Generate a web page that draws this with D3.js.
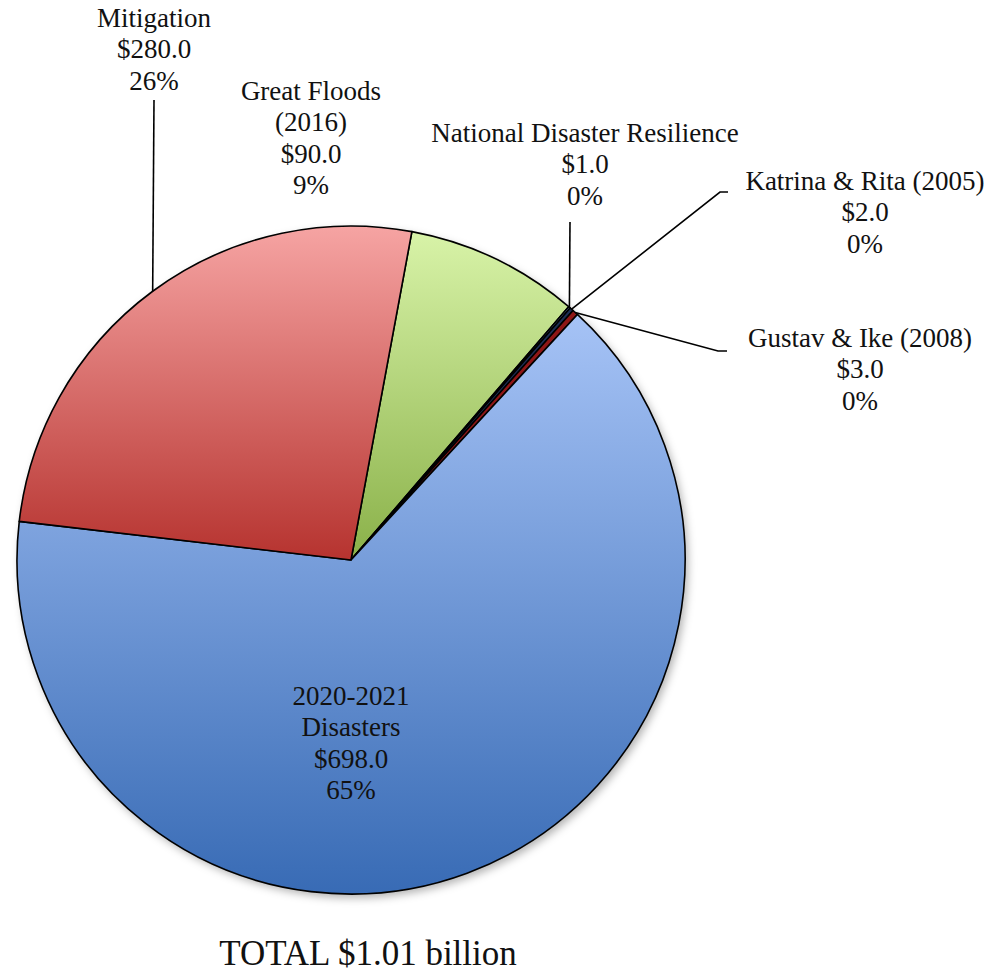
<!DOCTYPE html>
<html>
<head>
<meta charset="utf-8">
<script src="https://cdn.jsdelivr.net/npm/d3@7"></script>
<style>
  html, body { margin: 0; padding: 0; background: #fff; }
  svg { display: block; }
  text { font-family: "Liberation Serif", "DejaVu Serif", serif; fill: #111; }
</style>
</head>
<body>
<svg id="chart" width="1003" height="973"></svg>
<script>
// Funding categories (millions of dollars), drawn clockwise
const categories = ["Great Floods (2016)", "National Disaster Resilience", "Katrina & Rita (2005)", "Gustav & Ike (2008)", "2020-2021 Disasters", "Mitigation"];
const amounts = [90.0, 1.0, 2.0, 3.0, 698.0, 280.0];
const percentLabels = ["9%", "0%", "0%", "0%", "65%", "26%"];
const nameLines = [["Great Floods", "(2016)"], ["National Disaster Resilience"], ["Katrina & Rita (2005)"], ["Gustav & Ike (2008)"], ["2020-2021", "Disasters"], ["Mitigation"]];
const totalLabel = "TOTAL $1.01 billion";

// Slice fills: [top colour, bottom colour] of a vertical gradient
const fills = [
  ["#d8f3a8", "#8ab149"],
  ["#7fa9e8", "#4f7fc4"],
  ["#1d2f55", "#1d2f55"],
  ["#8e1616", "#8e1616"],
  ["#a6c3f6", "#386bb5"],
  ["#f6a4a3", "#b6332f"]
];

// Label placement: centre x, first-line centre y, and optional leader elbow
const labelLayout = [
  { x: 311, y: 91 },
  { x: 585, y: 133, leader: [[570, 222]] },
  { x: 865, y: 181, leader: [[728, 192], [720, 192]] },
  { x: 860, y: 338, leader: [[727, 351], [718, 351]] },
  { x: 351, y: 696 },
  { x: 154, y: 18, leader: [[154, 100]] }
];

const cx = 351, cy = 560, R = 334;
const fontSize = 27, lineGap = 31.5;
const startDeg = 10.5;

const svg = d3.select("#chart");
const defs = svg.append("defs");

const shadow = defs.append("filter").attr("id", "pieShadow")
  .attr("x", "-10%").attr("y", "-10%").attr("width", "120%").attr("height", "120%");
shadow.append("feDropShadow").attr("dx", 3).attr("dy", 4).attr("stdDeviation", 4)
  .attr("flood-color", "#000").attr("flood-opacity", 0.3);

fills.forEach((f, i) => {
  const g = defs.append("linearGradient").attr("id", "grad" + i)
    .attr("x1", 0).attr("y1", 0).attr("x2", 0).attr("y2", 1);
  g.append("stop").attr("offset", "0%").attr("stop-color", f[0]);
  g.append("stop").attr("offset", "100%").attr("stop-color", f[1]);
});

const a0 = startDeg * Math.PI / 180;
const pie = d3.pie().value(d => d).sort(null).startAngle(a0).endAngle(a0 + 2 * Math.PI);
const arcs = pie(amounts);
const arc = d3.arc().innerRadius(0).outerRadius(R);

const g = svg.append("g").attr("transform", `translate(${cx},${cy})`);

// shadow under the whole disc
g.append("circle").attr("r", R).attr("fill", "#fff").attr("filter", "url(#pieShadow)");

g.selectAll("path.slice").data(arcs).join("path")
  .attr("class", "slice")
  .attr("d", arc)
  .attr("fill", (d, i) => `url(#grad${i})`)
  .attr("stroke", "#000")
  .attr("stroke-width", 1.6)
  .attr("stroke-linejoin", "round");

// leader lines from label to the slice edge
const edgeArc = d3.arc().innerRadius(R).outerRadius(R);
arcs.forEach((d, i) => {
  const lay = labelLayout[i];
  if (!lay.leader) return;
  const [ex, ey] = edgeArc.centroid(d);
  const pts = lay.leader.concat([[cx + ex, cy + ey]]);
  svg.append("path")
    .attr("d", d3.line()(pts))
    .attr("fill", "none")
    .attr("stroke", "#000")
    .attr("stroke-width", 1.6);
});

// data labels
arcs.forEach((d, i) => {
  const lay = labelLayout[i];
  const lines = nameLines[i].concat(["$" + amounts[i].toFixed(1), percentLabels[i]]);
  const t = svg.append("text")
    .attr("text-anchor", "middle")
    .attr("font-size", fontSize);
  lines.forEach((s, k) => {
    t.append("tspan")
      .attr("x", lay.x)
      .attr("y", lay.y + k * lineGap)
      .attr("dy", "0.33em")
      .text(s);
  });
});

svg.append("text")
  .attr("x", 368).attr("y", 953).attr("dy", "0.33em")
  .attr("text-anchor", "middle")
  .attr("font-size", 35)
  .text(totalLabel);
</script>
</body>
</html>
